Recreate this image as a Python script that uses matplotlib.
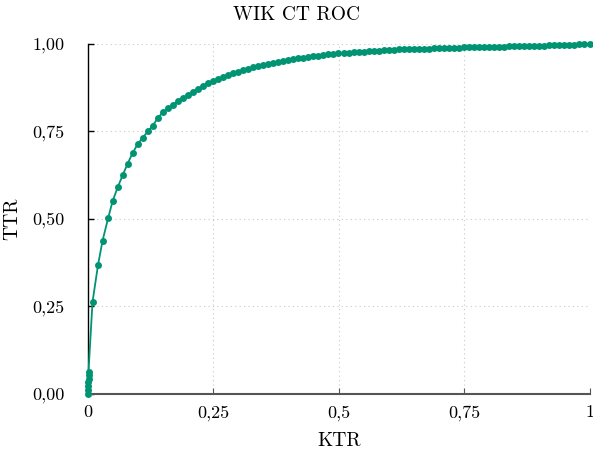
import matplotlib
matplotlib.use("Agg")
import matplotlib.pyplot as plt

# ROC curve samples: false-positive rate (KTR) and true-positive rate (TTR)
ktr = [0.000, 0.000, 0.0005, 0.0005, 0.001, 0.001, 0.001,
       0.009, 0.020, 0.029, 0.040, 0.049, 0.059, 0.069, 0.079, 0.089, 0.099,
       0.109, 0.119, 0.129, 0.139, 0.149, 0.159, 0.169, 0.179, 0.189, 0.199,
       0.209, 0.219, 0.229, 0.239, 0.249, 0.259, 0.269, 0.279, 0.289, 0.299,
       0.309, 0.319, 0.329, 0.339, 0.349, 0.359, 0.369, 0.379, 0.389, 0.399,
       0.409, 0.419, 0.429, 0.439, 0.449, 0.459, 0.469, 0.479, 0.489, 0.499,
       0.509, 0.519, 0.529, 0.539, 0.549, 0.559, 0.569, 0.579, 0.589, 0.599,
       0.609, 0.619, 0.629, 0.639, 0.649, 0.659, 0.669, 0.679, 0.689, 0.699,
       0.709, 0.719, 0.729, 0.739, 0.749, 0.759, 0.769, 0.779, 0.789, 0.799,
       0.809, 0.819, 0.829, 0.839, 0.849, 0.859, 0.869, 0.879, 0.889, 0.899,
       0.909, 0.919, 0.929, 0.939, 0.949, 0.959, 0.969, 0.979, 0.989, 1.000]
ttr = [0.000, 0.011, 0.022, 0.033, 0.044, 0.055, 0.064,
       0.263, 0.369, 0.438, 0.502, 0.551, 0.590, 0.625, 0.658, 0.689, 0.714,
       0.732, 0.750, 0.767, 0.788, 0.805, 0.816, 0.825, 0.838, 0.846, 0.855,
       0.864, 0.871, 0.881, 0.888, 0.893, 0.899, 0.905, 0.911, 0.916, 0.921,
       0.926, 0.929, 0.933, 0.937, 0.940, 0.943, 0.946, 0.949, 0.951, 0.954,
       0.956, 0.959, 0.961, 0.963, 0.965, 0.967, 0.969, 0.970, 0.972, 0.973,
       0.974, 0.975, 0.976, 0.977, 0.978, 0.979, 0.980, 0.981, 0.982, 0.983,
       0.984, 0.985, 0.985, 0.986, 0.986, 0.987, 0.987, 0.987, 0.988, 0.988,
       0.988, 0.989, 0.989, 0.989, 0.990, 0.990, 0.990, 0.991, 0.991, 0.991,
       0.992, 0.992, 0.992, 0.993, 0.993, 0.993, 0.994, 0.994, 0.995, 0.995,
       0.995, 0.996, 0.996, 0.997, 0.997, 0.998, 0.998, 0.999, 0.999, 1.000]

x_ticks = [0, 0.25, 0.5, 0.75, 1]
x_tick_labels = ["0", "0,25", "0,5", "0,75", "1"]
y_ticks = [0, 0.25, 0.5, 0.75, 1]
y_tick_labels = ["0,00", "0,25", "0,50", "0,75", "1,00"]

plt.rcParams["font.family"] = "serif"
plt.rcParams["font.serif"] = ["cmr10", "DejaVu Serif"]
plt.rcParams["axes.unicode_minus"] = False

fig = plt.figure(figsize=(5.93, 4.54), dpi=100)
ax = fig.add_axes([0.1484, 0.1322, 0.8465, 0.7709])

color = "#009473"
ax.plot(ktr, ttr, color=color, linewidth=1.3, marker="o", markersize=5.0,
        markeredgewidth=0, clip_on=False, zorder=3)

ax.set_xlim(0, 1)
ax.set_ylim(0, 1)
ax.set_xticks(x_ticks)
ax.set_xticklabels(x_tick_labels)
ax.set_yticks(y_ticks)
ax.set_yticklabels(y_tick_labels)

ax.grid(True, linestyle=(0, (1, 3)), color="#c8c8c8", linewidth=0.8)
ax.set_axisbelow(True)

for side in ("top", "right"):
    ax.spines[side].set_visible(False)
ax.spines["left"].set_color("black")
ax.spines["left"].set_linewidth(1.0)
ax.spines["bottom"].set_color("#555555")
ax.spines["bottom"].set_linewidth(1.5)

ax.tick_params(axis="y", direction="in", length=4, width=1.0, colors="black",
               labelsize=13, pad=17)
ax.tick_params(axis="x", direction="in", length=4, width=0.8, color="#555555",
               labelcolor="black", labelsize=13, pad=8)

# Title is centred on the whole figure rather than on the axes
fig.text(0.5, 0.967, "WIK CT ROC", fontsize=14, ha="center", va="center")
ax.set_xlabel("KTR", fontsize=14, labelpad=8)
ax.set_ylabel("TTR", fontsize=14, labelpad=8)

fig.savefig("out.png", dpi=100)
